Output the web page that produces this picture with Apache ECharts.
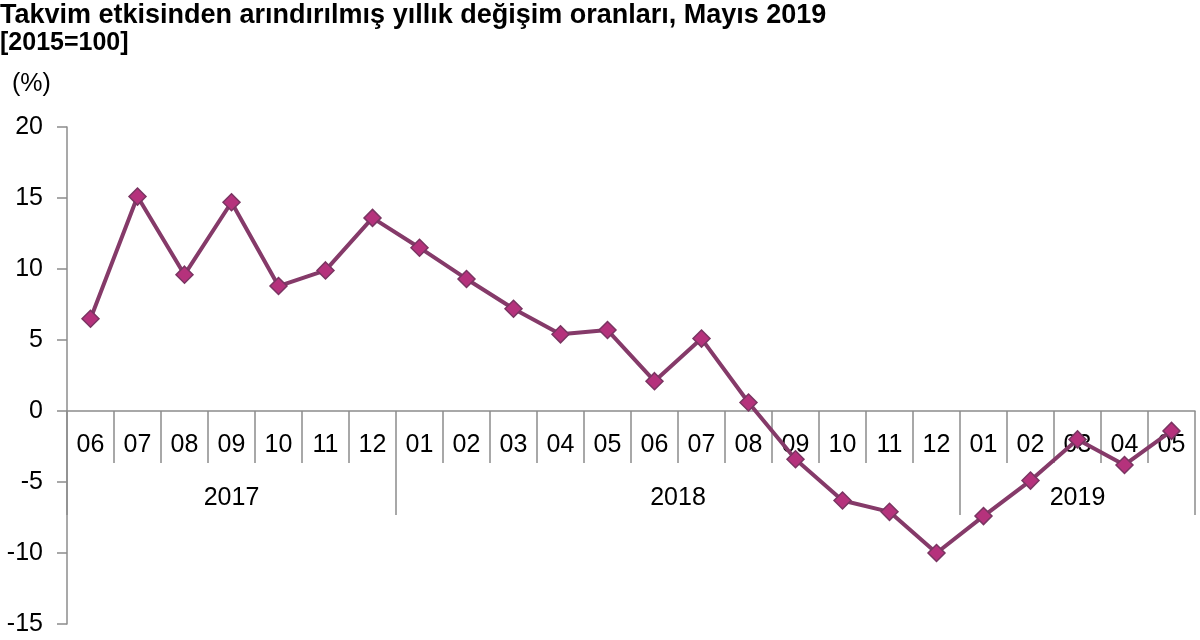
<!DOCTYPE html>
<html>
<head>
<meta charset="utf-8">
<script src="https://cdn.jsdelivr.net/npm/echarts@6/dist/echarts.min.js"></script>
<style>
html, body { margin: 0; padding: 0; background: #fff; }
#chart { width: 1200px; height: 640px; }
</style>
</head>
<body>
<div id="chart"></div>
<script>
var months = ['06', '07', '08', '09', '10', '11', '12',
    '01', '02', '03', '04', '05', '06', '07', '08', '09', '10', '11', '12',
    '01', '02', '03', '04', '05'];
var values = [6.5, 15.1, 9.6, 14.7, 8.8, 9.9, 13.6,
    11.5, 9.3, 7.2, 5.4, 5.7, 2.1, 5.1, 0.6, -3.4, -6.3, -7.1, -10.0,
    -7.4, -4.9, -2.0, -3.8, -1.4];
var years = ['2017', '2018', '2019'];
var yearSpans = [7, 12, 5];
var yMin = -15, yMax = 20, yStep = 5;

// year row: one entry per month, the year name sits in the middle of its span
var yearRow = [];
var yearStarts = [];
var yearLabelAt = {};
var pos = 0;
years.forEach(function (y, i) {
    yearStarts.push(pos);
    var mid = pos + (yearSpans[i] - 1) / 2;
    yearLabelAt[Math.floor(mid)] = { text: y, half: mid % 1 !== 0 };
    for (var k = 0; k < yearSpans[i]; k++) yearRow.push(y);
    pos += yearSpans[i];
});

var font = 'Liberation Sans, Arial, sans-serif';
var axisGray = '#8c8c8c';
var gridTop = 127, gridBottom = 16, chartH = 640;
// the x axes sit at y = 0, lifted up from the grid bottom
var plotH = chartH - gridTop - gridBottom;
var zeroLift = -plotH * (0 - yMin) / (yMax - yMin);

var myChart = echarts.init(document.getElementById('chart'));
var option = {
    animation: false,
    textStyle: { fontFamily: font },
    title: [{
        text: 'Takvim etkisinden arındırılmış yıllık değişim oranları, Mayıs 2019',
        subtext: '[2015=100]',
        left: 0,
        top: 2,
        itemGap: 2,
        padding: 0,
        textStyle: { fontFamily: font, fontSize: 27, fontWeight: 'bold', color: '#000' },
        subtextStyle: { fontFamily: font, fontSize: 25, fontWeight: 'bold', color: '#000' }
    }, {
        text: '(%)',
        left: 12,
        top: 72,
        padding: 0,
        textStyle: { fontFamily: font, fontSize: 25, fontWeight: 'normal', color: '#000' }
    }],
    grid: {
        left: 67,
        right: 5,
        top: gridTop,
        bottom: gridBottom,
        containLabel: false,
        outerBoundsMode: 'none'
    },
    xAxis: [{
        type: 'category',
        data: months,
        boundaryGap: true,
        position: 'bottom',
        offset: zeroLift,
        axisLine: { onZero: false, lineStyle: { color: axisGray, width: 1.5 } },
        axisTick: { show: true, interval: 0, length: 52, lineStyle: { color: axisGray, width: 1.5 } },
        axisLabel: { show: true, interval: 0, hideOverlap: false, margin: 22, fontSize: 25, color: '#000', fontFamily: font },
        splitLine: { show: false }
    }, {
        type: 'category',
        data: yearRow,
        boundaryGap: true,
        position: 'bottom',
        offset: zeroLift,
        axisLine: { show: false, onZero: false },
        axisTick: {
            show: true,
            length: 104,
            interval: function (idx) { return yearStarts.indexOf(idx) >= 0; },
            lineStyle: { color: axisGray, width: 1.5 }
        },
        axisLabel: {
            show: true,
            hideOverlap: false,
            margin: 75,
            fontSize: 25,
            color: '#000',
            fontFamily: font,
            interval: function (idx) { return !!yearLabelAt[idx]; },
            formatter: function (val, idx) {
                var l = yearLabelAt[idx];
                if (!l) return '';
                return l.half ? '{h|' + l.text + '}' : l.text;
            },
            rich: {
                h: { fontSize: 25, color: '#000', fontFamily: font, padding: [0, 0, 0, 47] }
            }
        },
        splitLine: { show: false }
    }],
    yAxis: {
        type: 'value',
        min: yMin,
        max: yMax,
        interval: yStep,
        axisLine: { show: true, lineStyle: { color: axisGray, width: 1.5 } },
        axisTick: { show: true, length: 10, lineStyle: { color: axisGray, width: 1.5 } },
        axisLabel: { margin: 24, fontSize: 25, color: '#000', fontFamily: font },
        splitLine: { show: false }
    },
    series: [{
        type: 'line',
        data: values,
        symbol: 'diamond',
        symbolSize: 17,
        z: 5,
        lineStyle: { color: '#853a69', width: 4 },
        itemStyle: { color: '#b5327c', borderColor: '#7a3562', borderWidth: 1.5 }
    }]
};
myChart.setOption(option);
</script>
</body>
</html>
